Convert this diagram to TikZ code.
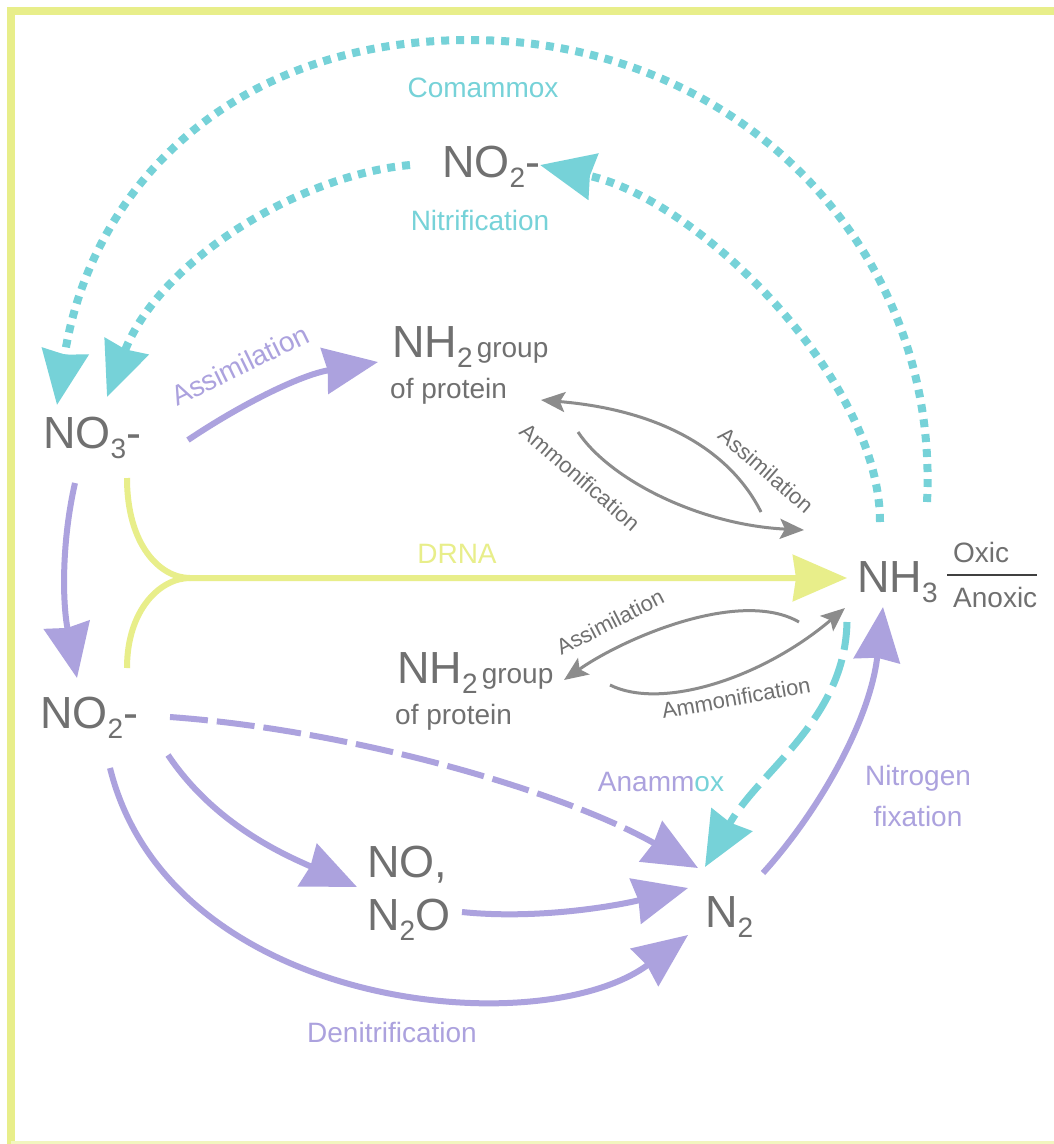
\documentclass[tikz,border=0pt]{standalone}
\usepackage{fontspec}
\setmainfont{Liberation Sans}
\usetikzlibrary{arrows.meta}
\definecolor{cyanc}{RGB}{118,210,216}
\definecolor{purc}{RGB}{172,162,222}
\definecolor{yelc}{RGB}{232,238,138}
\definecolor{grt}{RGB}{112,112,112}
\definecolor{gra}{RGB}{140,140,140}
\newcommand{\mysub}[1]{\raisebox{-10pt}{\fontsize{28}{28}\selectfont #1}}
\begin{document}
\begin{tikzpicture}[x=1pt,y=-1pt,
  chem/.style={font=\fontsize{45}{50}\selectfont, text=grt, inner sep=0pt, anchor=base west},
  small/.style={font=\fontsize{28}{30}\selectfont, text=grt, inner sep=0pt, anchor=base west},
  lab/.style={font=\fontsize{28}{32}\selectfont, inner sep=0pt},
  glab/.style={font=\fontsize{22}{24}\selectfont, text=grt, inner sep=0pt},
  bigtip/.style={-{Stealth[length=54pt,width=46pt,inset=3pt]}},
  smalltip/.style={-{Stealth[length=24pt,width=20pt,inset=5pt]}},
  purline/.style={draw=purc, line width=6pt},
  purdash/.style={draw=purc, line width=6pt, dash pattern=on 38pt off 9pt},
  yelline/.style={draw=yelc, line width=6pt},
  cyandot/.style={draw=cyanc, line width=8pt, dash pattern=on 8pt off 7pt},
  cyandash/.style={draw=cyanc, line width=7pt, dash pattern=on 28pt off 10pt},
  grayline/.style={draw=gra, line width=3pt}
]
\useasboundingbox (0,0) rectangle (1054,1144);
\fill[white] (0,0) rectangle (1054,1144);
% frame
\draw[yelc, line width=8pt] (1054,11) -- (11,11) -- (11,1144);
\draw[yelc!55, line width=3pt] (11,1142) -- (1054,1142);

% chemical nodes
\node[chem] (no3) at (43,448) {NO\mysub{3}-};
\node[chem] (no2) at (40,728) {NO\mysub{2}-};
\node[chem] (no2t) at (442,177) {NO\mysub{2}-};
\node[chem] (nh3) at (857,592) {NH\mysub{3}};
\node[chem] (nh2a) at (392,357) {NH\mysub{2}\hspace{4pt}{\fontsize{28}{30}\selectfont group}};
\node[small] (prota) at (390,398) {of protein};
\node[chem] (nh2b) at (397,683) {NH\mysub{2}\hspace{4pt}{\fontsize{28}{30}\selectfont group}};
\node[small] (protb) at (395,724) {of protein};
\node[chem] (no) at (367,877) {NO,};
\node[chem] (n2o) at (367,930) {N\mysub{2}O};
\node[chem] (n2) at (705,927) {N\mysub{2}};
\node[small] (oxic) at (953,562) {Oxic};
\node[small] (anoxic) at (953,607) {Anoxic};
\coordinate (ox1) at (947,575);
\coordinate (ox2) at (1037,575);
\draw[draw=black!75, line width=2pt] (ox1) -- (ox2);

% labels
\node[lab, text=cyanc] (lcom) at (483,88) {Comammox};
\node[lab, text=cyanc] (lnit) at (480,220) {Nitrification};
\node[lab, text=purc, rotate=26] (lass) at (240,365) {Assimilation};
\node[lab, text=yelc] (ldrna) at (457,554) {DRNA};
\node[glab, rotate=-41] (lass2) at (766,470) {Assimilation};
\node[glab, rotate=-41] (lamm2) at (580,477) {Ammonification};
\node[glab, rotate=27] (lass3) at (610,622) {Assimilation};
\node[glab, rotate=10] (lamm3) at (736,698) {Ammonification};
\node[lab] (lanam) at (661,782) {\textcolor{purc}{Anamm}\textcolor{cyanc}{ox}};
\node[lab, text=purc, anchor=base] (lnf1) at (918,785) {Nitrogen};
\node[lab, text=purc, anchor=base] (lnf2) at (918,826) {fixation};
\node[lab, text=purc, anchor=base] (lden) at (392,1042) {Denitrification};

% connector end points
\coordinate (cs) at (927,502);   \coordinate (ce) at (57,405);
\coordinate (ns) at (880,522);   \coordinate (ne) at (540,165);
\coordinate (ns2) at (410,165);  \coordinate (ne2) at (107,397);
\coordinate (a1) at (75,483);    \coordinate (a2) at (77,678);
\coordinate (b1) at (188,440);   \coordinate (b2) at (378,362);
\coordinate (d1) at (127,478);   \coordinate (dm) at (190,578);
\coordinate (d2) at (127,668);   \coordinate (d3) at (847,578);
\coordinate (g1) at (761,512);   \coordinate (g2) at (541,400);
\coordinate (g3) at (578,432);   \coordinate (g4) at (804,530);
\coordinate (g5) at (799,622);   \coordinate (g6) at (564,680);
\coordinate (g7) at (610,685);   \coordinate (g8) at (845,608);
\coordinate (an1) at (847,622);  \coordinate (an2) at (705,867);
\coordinate (nf1) at (763,873);  \coordinate (nf2) at (883,607);
\coordinate (p1) at (170,717);   \coordinate (p2) at (698,868);
\coordinate (p3) at (168,755);   \coordinate (p4) at (357,887);
\coordinate (p5) at (462,912);   \coordinate (p6) at (688,888);
\coordinate (p7) at (110,768);   \coordinate (p8) at (688,935);

% cyan: comammox and nitrification
\draw[cyandot, bigtip] (cs) .. controls (940,250) and (740,40) .. (470,40)
      .. controls (230,40) and (90,190) .. (ce);
\draw[cyandot, bigtip] (ns) .. controls (880,380) and (700,200) .. (ne);
\draw[cyandot, bigtip] (ns2) .. controls (300,175) and (160,260) .. (ne2);

% purple: NO3 -> NO2, assimilation
\draw[purline, bigtip] (a1) .. controls (62,540) and (62,600) .. (a2);
\draw[purline, bigtip] (b1) .. controls (240,405) and (300,375) .. (b2);

% DRNA
\draw[yelline, bigtip] (d1) .. controls (127,545) and (160,578) .. (dm) -- (d3);
\draw[yelline] (d2) .. controls (127,610) and (160,578) .. (dm);

% gray arrows
\draw[grayline, smalltip] (g1) .. controls (730,450) and (660,410) .. (g2);
\draw[grayline, smalltip] (g3) .. controls (610,480) and (700,525) .. (g4);
\draw[grayline, smalltip] (g5) .. controls (740,588) and (624,638) .. (g6);
\draw[grayline, smalltip] (g7) .. controls (660,710) and (760,680) .. (g8);

% anammox cyan dashed
\draw[cyandash, bigtip] (an1) .. controls (845,720) and (760,770) .. (an2);
% nitrogen fixation
\draw[purline, bigtip] (nf1) .. controls (820,810) and (870,720) .. (nf2);
% NO2 -> N2 dashed
\draw[purdash, bigtip] (p1) .. controls (350,730) and (560,790) .. (p2);
% NO2 -> NO,N2O
\draw[purline, bigtip] (p3) .. controls (215,825) and (285,855) .. (p4);
% NO,N2O -> N2
\draw[purline, bigtip] (p5) .. controls (540,920) and (620,905) .. (p6);
% denitrification
\draw[purline, bigtip] (p7) .. controls (170,1010) and (540,1045) .. (p8);
\end{tikzpicture}
\end{document}
